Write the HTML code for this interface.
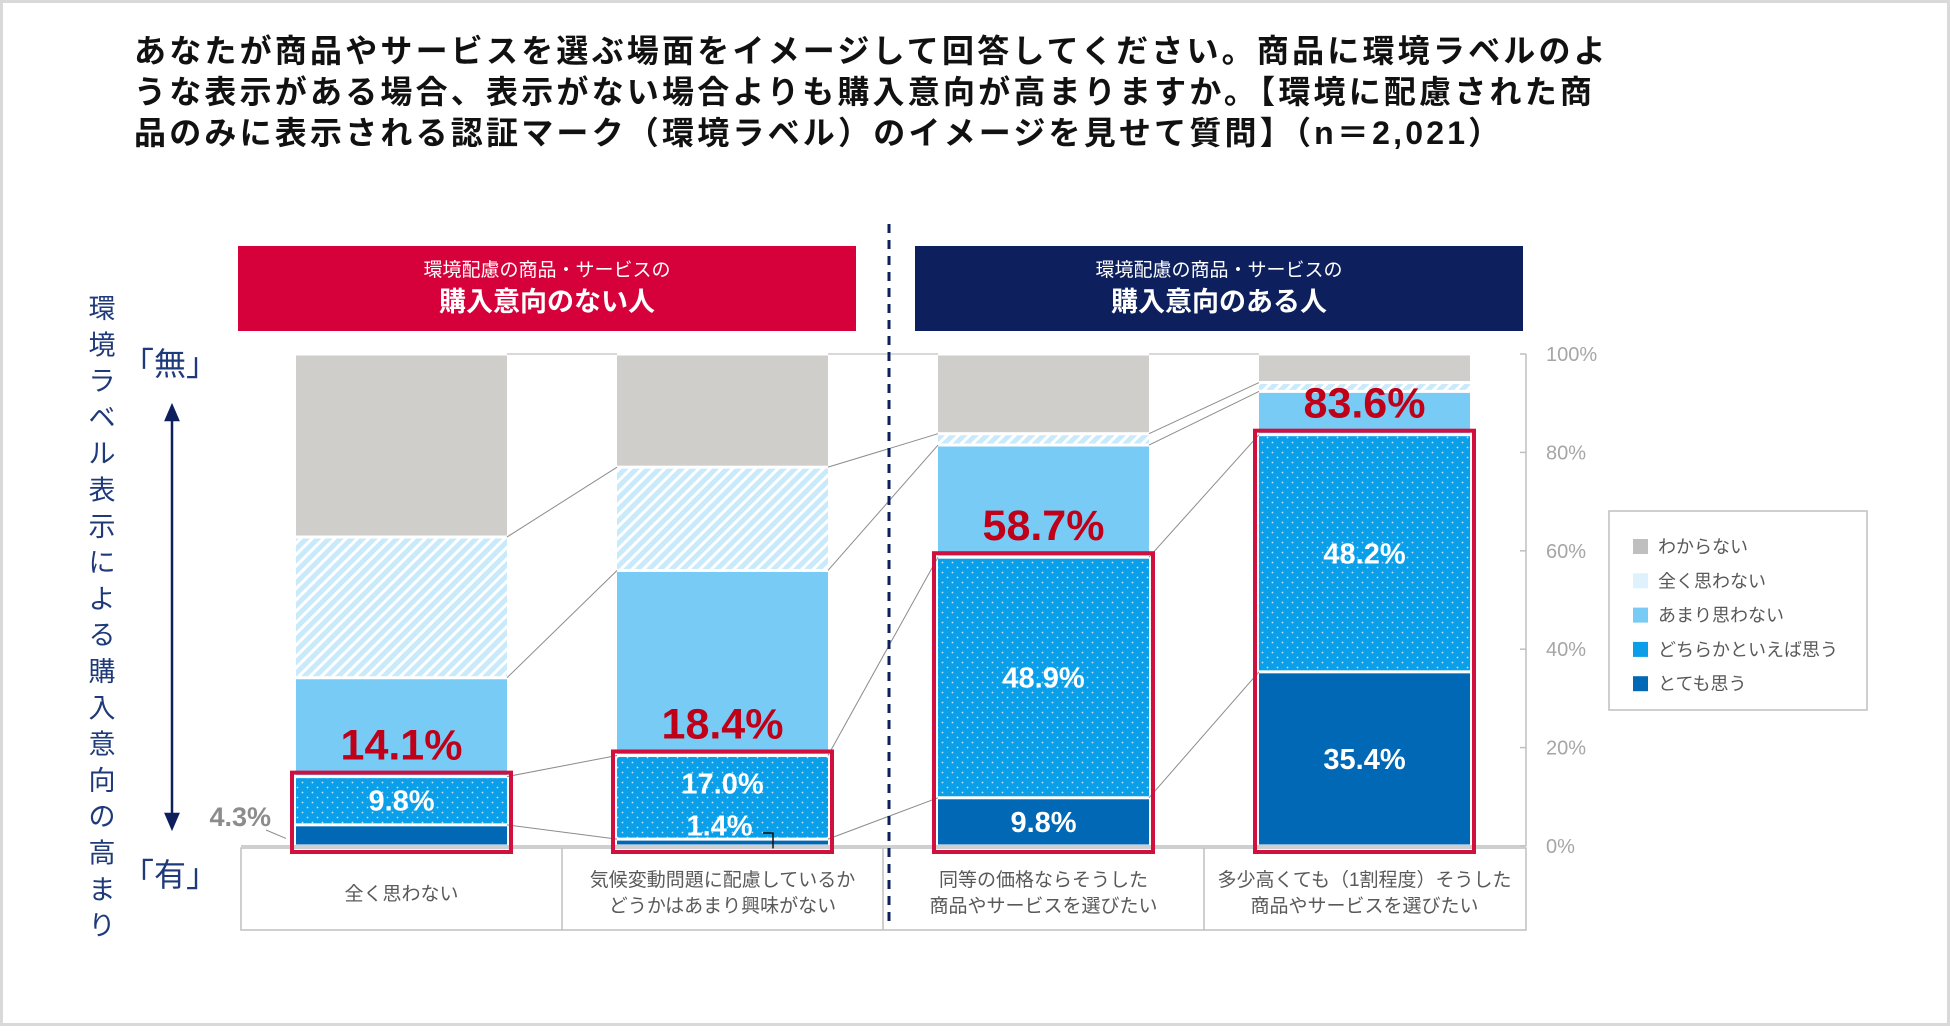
<!DOCTYPE html>
<html><head><meta charset="utf-8">
<style>
html,body{margin:0;padding:0;background:#fff;}
body{width:1950px;height:1026px;overflow:hidden;font-family:"Liberation Sans","Noto Sans CJK JP",sans-serif;}
svg text{font-family:"Liberation Sans","Noto Sans CJK JP",sans-serif;}
</style></head>
<body>
<svg id="chart" width="1950" height="1026" viewBox="0 0 1950 1026" xmlns="http://www.w3.org/2000/svg">
<defs>
<pattern id="hatch" patternUnits="userSpaceOnUse" width="8" height="8" patternTransform="rotate(-45)">
<rect width="8" height="8" fill="#c9eafa"/><rect width="8" height="3" fill="#ffffff"/>
</pattern>
<pattern id="dots" patternUnits="userSpaceOnUse" width="10" height="10">
<rect width="10" height="10" fill="#0a9fe8"/><circle cx="2.5" cy="2.5" r="0.9" fill="#bfe6fb"/><circle cx="7.5" cy="7.5" r="0.9" fill="#bfe6fb"/>
</pattern>
</defs>
<rect x="1.5" y="1.5" width="1947" height="1023" fill="none" stroke="#d9d9d9" stroke-width="3"/>
<g font-size="32" font-weight="bold" fill="#111" letter-spacing="3.2">
<text x="134" y="62">あなたが商品やサービスを選ぶ場面をイメージして回答してください。商品に環境ラベルのよ</text>
<text x="134" y="103">うな表示がある場合、表示がない場合よりも購入意向が高まりますか。【環境に配慮された商</text>
<text x="134" y="144">品のみに表示される認証マーク（環境ラベル）のイメージを見せて質問】（n＝2,021）</text>
</g>
<g>
<rect x="238" y="246" width="618" height="85" fill="#d6003a"/>
<text x="547" y="276" font-size="19" fill="#fff" text-anchor="middle">環境配慮の商品・サービスの</text>
<text x="547" y="311" font-size="27" font-weight="bold" fill="#fff" text-anchor="middle">購入意向のない人</text>
</g>
<g>
<rect x="915" y="246" width="608" height="85" fill="#0d1f5c"/>
<text x="1219" y="276" font-size="19" fill="#fff" text-anchor="middle">環境配慮の商品・サービスの</text>
<text x="1219" y="311" font-size="27" font-weight="bold" fill="#fff" text-anchor="middle">購入意向のある人</text>
</g>
<g id="vlabel" font-size="27" fill="#1f3a7a" text-anchor="middle"></g>
<text x="170" y="375" font-size="32" fill="#1f3a7a" text-anchor="middle">「無」</text>
<text x="170" y="886" font-size="32" fill="#1f3a7a" text-anchor="middle">「有」</text>
<g stroke="#0d1f5c" stroke-width="2.5" fill="#0d1f5c">
<line x1="172" y1="414" x2="172" y2="820"/>
<path d="M172 406 L166 420 L178 420 Z"/><path d="M172 828 L166 814 L178 814 Z"/>
</g>
<g id="cats"></g>
<g id="plot"></g>
<line x1="889" y1="224" x2="889" y2="926" stroke="#0d1f5c" stroke-width="3" stroke-dasharray="9,7"/>
<g id="legend"></g>
</svg>
<script>
const categories = ["全く思わない", "気候変動問題に配慮しているか|どうかはあまり興味がない", "同等の価格ならそうした|商品やサービスを選びたい", "多少高くても（1割程度）そうした|商品やサービスを選びたい"];
const seriesNames = ["とても思う", "どちらかといえば思う", "あまり思わない", "全く思わない", "わからない"];
const veryMuch = [4.3, 1.4, 9.8, 35.4];
const somewhat = [9.8, 17.0, 48.9, 48.2];
const notMuch = [20.1, 37.6, 22.8, 8.8];
const notAtAll = [28.6, 21.0, 2.3, 1.8];
const dontKnow = [37.2, 23.0, 16.2, 5.8];
const totals = ["14.1%", "18.4%", "58.7%", "83.6%"];
const yTicks = [0, 20, 40, 60, 80, 100];

const NS = "http://www.w3.org/2000/svg";
const plot = document.getElementById('plot');
const Y0 = 846, Y100 = 354;
function yScale(v){ return Y0 - (Y0 - Y100) * v / 100; }
const barW = 211, x0 = 296, step = 321;
function xScale(i){ return x0 + i * step; }
function mk(tag, attrs, parent){ const e = document.createElementNS(NS, tag); for (const k in attrs) e.setAttribute(k, attrs[k]); (parent||plot).appendChild(e); return e; }

const vtxt = "環境ラベル表示による購入意向の高まり";
const vg = document.getElementById('vlabel');
for (let i = 0; i < vtxt.length; i++) { const t = mk('text', {x: 102, y: 318 + i * 36.3}, vg); t.textContent = vtxt[i]; }

const cg = document.getElementById('cats');
mk('rect', {x: 241, y: 848, width: 1285, height: 82, fill: 'none', stroke: '#bfbfbf', 'stroke-width': 1.5}, cg);
categories.forEach((c, i) => {
  const cx = xScale(i) + barW / 2;
  if (i > 0) mk('line', {x1: xScale(i) - 55, y1: 848, x2: xScale(i) - 55, y2: 930, stroke: '#bfbfbf', 'stroke-width': 1.5}, cg);
  const lines = c.split('|');
  lines.forEach((ln, k) => {
    const t = mk('text', {x: cx, y: (lines.length === 1 ? 900 : 886 + k * 26), 'font-size': 19, fill: '#595959', 'text-anchor': 'middle'}, cg);
    
    
    t.textContent = ln;
  });
});

mk('line', {x1: 1526, y1: Y100, x2: 1526, y2: Y0, stroke: '#bfbfbf', 'stroke-width': 1.5});
mk('line', {x1: 241, y1: Y0, x2: 1526, y2: Y0, stroke: '#bfbfbf', 'stroke-width': 1.5});
yTicks.forEach(v => {
  mk('line', {x1: 1520, y1: yScale(v), x2: 1526, y2: yScale(v), stroke: '#bfbfbf', 'stroke-width': 1.5});
  const t = mk('text', {x: 1546, y: yScale(v) + 7, 'font-size': 20, fill: '#a6a6a6'});
  
  
  t.textContent = v + '%';
});

const series = [veryMuch, somewhat, notMuch, notAtAll, dontKnow];
const fills = ['#0068b4', 'url(#dots)', '#77cbf5', 'url(#hatch)', '#d0cecb'];
const cum = categories.map((_, i) => { let s = 0; return series.map(arr => { const b = s; s += arr[i]; return [b, s]; }); });

for (let i = 0; i < categories.length - 1; i++) {
  for (let s = 0; s < series.length; s++) {
    const top1 = s === series.length - 1 ? 100 : cum[i][s][1];
    const top2 = s === series.length - 1 ? 100 : cum[i + 1][s][1];
    mk('line', {x1: xScale(i) + barW, y1: yScale(top1), x2: xScale(i + 1), y2: yScale(top2), stroke: s === series.length - 1 ? '#d9d9d9' : '#8c8c8c', 'stroke-width': s === series.length - 1 ? 2 : 1});
  }
}

categories.forEach((c, i) => {
  series.forEach((arr, s) => {
    const [b, t] = cum[i][s];
    const h = yScale(b) - yScale(t);
    const r = mk('rect', {x: xScale(i), y: yScale(t) + 1.5, width: barW, height: Math.max(h - 3, 0.5), fill: fills[s]});
    
    
  });
  const topV = cum[i][1][1];
  const rb = mk('rect', {x: xScale(i) - 4, y: yScale(topV) - 4, width: barW + 8, height: Y0 - yScale(topV) + 10, fill: 'none', stroke: '#d0103f', 'stroke-width': 4});
  
  
  const tl = mk('text', {x: xScale(i) + barW / 2, y: yScale(topV) - 17, 'font-size': 43, 'font-weight': 'bold', fill: '#c00018', 'text-anchor': 'middle'});
  
  
  tl.textContent = totals[i];
  const cx = xScale(i) + barW / 2;
  const lab = (v, y, dx) => { const t = mk('text', {x: cx + (dx||0), y: y, 'font-size': 29, 'font-weight': 'bold', fill: '#fff', 'text-anchor': 'middle'});   t.textContent = v.toFixed(1) + '%'; };
  if (i === 0) {
    lab(somewhat[i], yScale((cum[i][1][0] + cum[i][1][1]) / 2) + 10);
  } else if (i === 1) {
    lab(somewhat[i], yScale(cum[i][1][1]) + 38);
    lab(veryMuch[i], yScale(cum[i][1][1]) + 80, -3);
  } else {
    lab(somewhat[i], yScale((cum[i][1][0] + cum[i][1][1]) / 2) + 10);
    lab(veryMuch[i], yScale(veryMuch[i] / 2) + 10);
  }
});
const ol = mk('text', {x: 271, y: 826, 'font-size': 27, 'font-weight': 'bold', fill: '#8c8c8c', 'text-anchor': 'end'});


ol.textContent = veryMuch[0].toFixed(1) + '%';
mk('line', {x1: 266, y1: 830, x2: 286, y2: yScale(veryMuch[0] / 2) + 3, stroke: '#8c8c8c', 'stroke-width': 1});
mk('path', {d: `M763 833 L773 833 L773 ${yScale(veryMuch[1] / 2) + 6}`, fill: 'none', stroke: '#111', 'stroke-width': 1.5});

const lg = document.getElementById('legend');
mk('rect', {x: 1609, y: 511, width: 258, height: 199, fill: '#fff', stroke: '#bfbfbf', 'stroke-width': 1.5}, lg);
const legendFills = ['#bfbfbf', '#ddf2fd', '#77cbf5', '#0a9fe8', '#0068b4'];
for (let k = 0; k < 5; k++) {
  const s = 4 - k, y = 547 + k * 34.3;
  mk('rect', {x: 1633, y: y - 8, width: 15, height: 15, fill: legendFills[k]}, lg);
  const t = mk('text', {x: 1658, y: y + 6, 'font-size': 18, fill: '#595959'}, lg);
  
  
  t.textContent = seriesNames[s];
}
</script>
</body></html>
